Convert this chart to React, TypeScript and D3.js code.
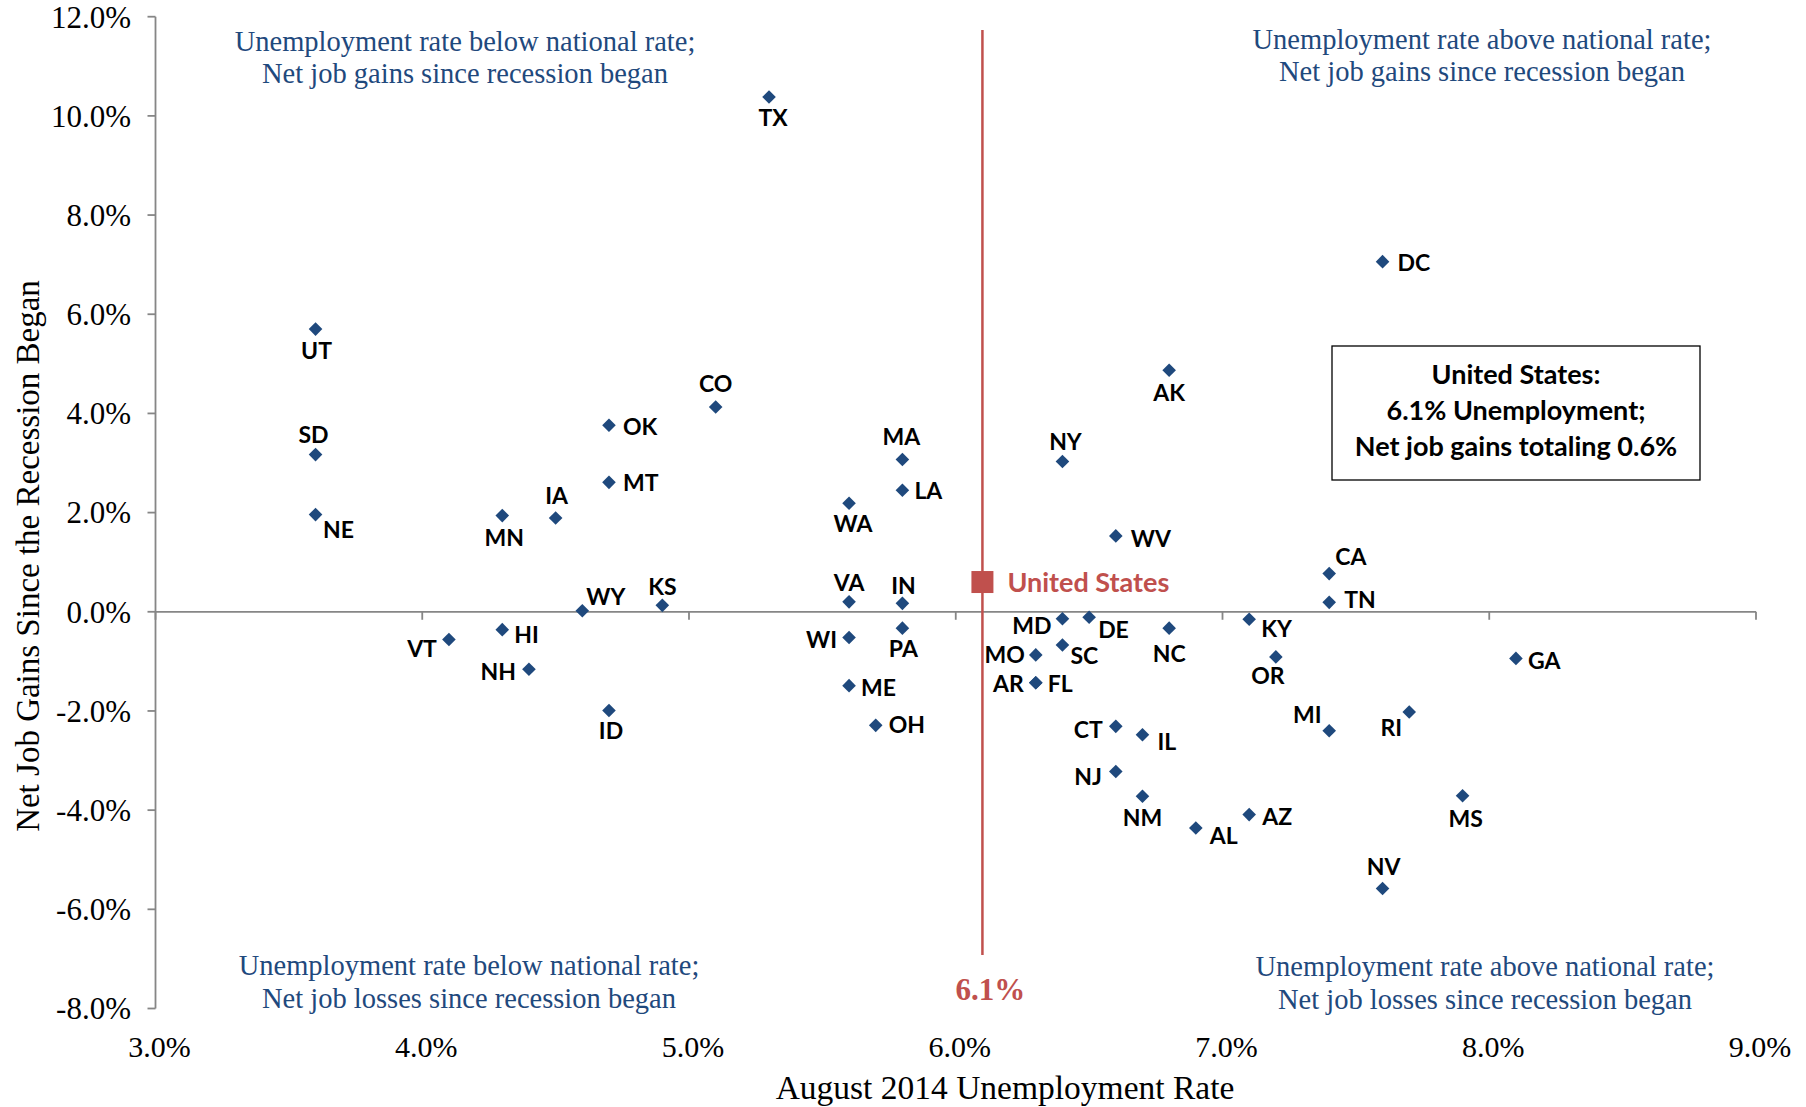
import React from 'react';
import * as d3 from 'd3';

// ---------------- DATA ----------------
const states = ['TX','UT','SD','NE','MN','IA','OK','MT','CO','WY','KS','VT','HI','NH','ID','WA','MA','LA','VA','IN','WI','PA','ME','OH','NY','AK','WV','MD','DE','SC','MO','AR','FL','NC','CT','IL','NJ','NM','AL','AZ','KY','OR','CA','TN','MI','RI','MS','NV','GA','DC'];
const unemploymentRate = [5.3,3.6,3.6,3.6,4.3,4.5,4.7,4.7,5.1,4.6,4.9,4.1,4.3,4.4,4.7,5.6,5.8,5.8,5.6,5.8,5.6,5.8,5.6,5.7,6.4,6.8,6.6,6.4,6.5,6.4,6.3,6.3,6.3,6.8,6.6,6.7,6.6,6.7,6.9,7.1,7.1,7.2,7.4,7.4,7.4,7.7,7.9,7.6,8.1,7.6];
const netJobGains = [10.38,5.70,3.17,1.96,1.94,1.89,3.76,2.61,4.13,0.02,0.13,-0.56,-0.36,-1.16,-1.99,2.19,3.07,2.45,0.20,0.17,-0.52,-0.33,-1.49,-2.29,3.03,4.87,1.53,-0.14,-0.11,-0.67,-0.87,-1.43,-1.43,-0.33,-2.31,-2.48,-3.22,-3.72,-4.36,-4.09,-0.15,-0.91,0.77,0.19,-2.40,-2.02,-3.71,-5.58,-0.94,7.06];
const usRate = 6.1;
const usGain = 0.6;
const usLabel = 'United States';
const xTicks = [3, 4, 5, 6, 7, 8, 9];
const yTicks = [12, 10, 8, 6, 4, 2, 0, -2, -4, -6, -8];
const xTitle = 'August 2014 Unemployment Rate';
const yTitle = 'Net Job Gains Since the Recession Began';
const infoLines = ['United States:', '6.1% Unemployment;', 'Net job gains totaling 0.6%'];
const quadTopLeft = ['Unemployment rate below national rate;', 'Net job gains since recession began'];
const quadTopRight = ['Unemployment rate above national rate;', 'Net job gains since recession began'];
const quadBottomLeft = ['Unemployment rate below national rate;', 'Net job losses since recession began'];
const quadBottomRight = ['Unemployment rate above national rate;', 'Net job losses since recession began'];

// ---------------- LAYOUT ----------------
type Anchor = 'start' | 'middle' | 'end';
const labelPlacement: Record<string, [Anchor, number, number]> = {
  TX: ['middle', 4, 21], UT: ['middle', 1, 22], SD: ['middle', -2, -20], NE: ['middle', 23, 15],
  MN: ['middle', 2, 22], IA: ['middle', 1, -22], OK: ['start', 14, 1], MT: ['start', 14, 0],
  CO: ['middle', 0, -23], WY: ['start', 4, -14], KS: ['middle', 0, -19], VT: ['end', -12, 9],
  HI: ['start', 12, 5], NH: ['end', -13, 2], ID: ['middle', 2, 20], WA: ['middle', 4, 21],
  MA: ['middle', -1, -23], LA: ['start', 12, 0], VA: ['middle', 0, -19], IN: ['middle', 1, -18],
  WI: ['end', -12, 2], PA: ['middle', 1, 21], ME: ['start', 12, 2], OH: ['start', 13, -1],
  NY: ['middle', 3, -20], AK: ['middle', 0, 22], WV: ['start', 15, 3], MD: ['end', -11, 7],
  DE: ['start', 9, 12], SC: ['start', 8, 11], MO: ['end', -11, 0], AR: ['end', -12, 1],
  FL: ['start', 12, 1], NC: ['middle', 0, 26], CT: ['end', -13, 3], IL: ['start', 15, 7],
  NJ: ['end', -14, 5], NM: ['middle', 0, 21], AL: ['start', 14, 8], AZ: ['start', 13, 2],
  KY: ['start', 12, 10], OR: ['middle', -8, 19], CA: ['start', 6, -17], TN: ['start', 15, -3],
  MI: ['middle', -22, -16], RI: ['middle', -18, 16], MS: ['middle', 3, 23], NV: ['middle', 1, -22],
  GA: ['start', 12, 2], DC: ['start', 15, 1],
};

const W = 1806;
const H = 1107;
const SERIF = '"Liberation Serif", "Times New Roman", serif';
const SANS = 'Lato, "Open Sans", sans-serif';
const BLUE = '#1F497D';
const RED = '#C0504D';
const AXIS = '#868686';

export default function App() {
  const x = d3.scaleLinear().domain([3, 9]).range([155.5, 1756]);
  const y = d3.scaleLinear().domain([-8, 12]).range([1008.5, 16.7]);
  const pct = (v: number) => v.toFixed(1) + '%';
  const diamond = (r: number) => `M0,${-r}L${r},0L0,${r}L${-r},0Z`;

  const quad = (lines: string[], cx: number, b1: number, b2: number, key: string) => (
    <g key={key} fontFamily={SERIF} fontSize={28.5} fill={BLUE} textAnchor="middle">
      <text x={cx} y={b1}>{lines[0]}</text>
      <text x={cx} y={b2}>{lines[1]}</text>
    </g>
  );

  return (
    <div style={{ position: 'absolute', left: 0, top: 0, width: W, height: H, background: '#fff' }}>
      <svg width={W} height={H} viewBox={`0 0 ${W} ${H}`} style={{ display: 'block' }}>
        <rect x={0} y={0} width={W} height={H} fill="#fff" />

        {/* Y axis */}
        <line x1={x(3)} x2={x(3)} y1={y(12)} y2={y(-8)} stroke={AXIS} strokeWidth={1.8} />
        {yTicks.map((t) => (
          <g key={'yt' + t}>
            <line x1={x(3) - 8} x2={x(3)} y1={y(t)} y2={y(t)} stroke={AXIS} strokeWidth={1.8} />
            <text x={131} y={y(t)} dy="0.35em" textAnchor="end" fontFamily={SERIF} fontSize={31} fill="#000">
              {pct(t)}
            </text>
          </g>
        ))}

        {/* X axis at y = 0 */}
        <line x1={x(3)} x2={x(9)} y1={y(0)} y2={y(0)} stroke={AXIS} strokeWidth={1.8} />
        {xTicks.map((t) => (
          <g key={'xt' + t}>
            <line x1={x(t)} x2={x(t)} y1={y(0)} y2={y(0) + 8} stroke={AXIS} strokeWidth={1.8} />
            <text x={x(t) + 4} y={1057} textAnchor="middle" fontFamily={SERIF} fontSize={30} fill="#000">
              {pct(t)}
            </text>
          </g>
        ))}

        {/* Axis titles */}
        <text x={1005} y={1099} textAnchor="middle" fontFamily={SERIF} fontSize={33.5} fill="#000">{xTitle}</text>
        <text transform={`translate(39,556) rotate(-90)`} textAnchor="middle" fontFamily={SERIF} fontSize={33} fill="#000">{yTitle}</text>

        {/* Quadrant labels */}
        {quad(quadTopLeft, 465, 51, 83, 'q1')}
        {quad(quadTopRight, 1482, 49, 81, 'q2')}
        {quad(quadBottomLeft, 469, 975, 1008, 'q3')}
        {quad(quadBottomRight, 1485, 976, 1009, 'q4')}

        {/* National rate line */}
        <line x1={x(usRate)} x2={x(usRate)} y1={30} y2={955} stroke={RED} strokeWidth={2.5} />
        <text x={x(usRate) + 8} y={1000} textAnchor="middle" fontFamily={SERIF} fontWeight="bold" fontSize={31} fill={RED}>
          {pct(usRate)}
        </text>

        {/* States */}
        {states.map((s, i) => {
          const cx = x(unemploymentRate[i]);
          const cy = y(netJobGains[i]);
          return <path key={'m' + s} d={diamond(6.8)} transform={`translate(${cx},${cy})`} fill={BLUE} />;
        })}
        {states.map((s, i) => {
          const cx = x(unemploymentRate[i]);
          const cy = y(netJobGains[i]);
          const [anchor, dx, dy] = labelPlacement[s];
          return (
            <text key={'l' + s} x={cx + dx} y={cy + dy} dy="0.36em" textAnchor={anchor}
              fontFamily={SANS} fontWeight="bold" fontSize={23} fill="#000">
              {s}
            </text>
          );
        })}

        {/* United States marker */}
        <rect x={x(usRate) - 11} y={y(usGain) - 11} width={22} height={22} fill={RED} />
        <text x={x(usRate) + 25} y={y(usGain)} dy="0.36em" fontFamily={SANS} fontWeight="bold" fontSize={27} fill={RED}>
          {usLabel}
        </text>

        {/* Info box */}
        <rect x={1332} y={346} width={368} height={134} fill="#fff" stroke="#000" strokeWidth={1.3} />
        {infoLines.map((l, i) => (
          <text key={'info' + i} x={1516} y={384 + i * 36} textAnchor="middle" fontFamily={SANS} fontWeight="bold" fontSize={27} fill="#000">
            {l}
          </text>
        ))}
      </svg>
    </div>
  );
}
